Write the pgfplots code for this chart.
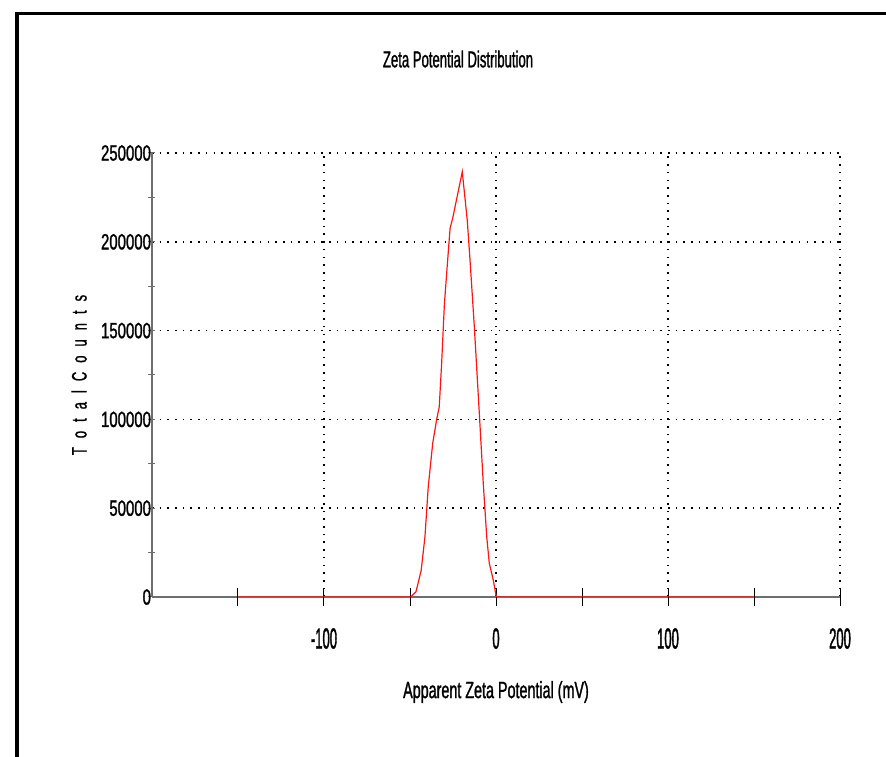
\documentclass[border=0pt]{standalone}
\usepackage{fontspec}
\setmainfont{Liberation Sans}
\newfontfamily\titlefont[FakeStretch=0.57,FakeBold=1.2]{Liberation Sans}
\newfontfamily\xtickfont[FakeStretch=0.45,FakeBold=1.2]{Liberation Sans}
\newfontfamily\ytickfont[FakeStretch=0.68,FakeBold=1.2]{Liberation Sans}
\newfontfamily\labfont[FakeStretch=0.61,FakeBold=1.2]{Liberation Sans}
\newfontfamily\ylabfont[FakeStretch=0.62,FakeBold=1.0]{Liberation Sans}
\usepackage{pgfplots}
\pgfplotsset{compat=1.18}
\definecolor{axgray}{RGB}{110,110,110}
\definecolor{zred}{RGB}{255,20,20}
\begin{document}
\begin{tikzpicture}
\useasboundingbox (-152pt,-160pt) rectangle (734pt,597pt);
\draw[line width=3.3pt, black] (-135pt,-170pt) -- (-135pt,583.3pt) -- (745pt,583.3pt);
\begin{axis}[
  at={(0pt,0pt)}, anchor=south west,
  scale only axis, width=688pt, height=444pt,
  xmin=-200, xmax=200, ymin=0, ymax=250000,
  axis x line*=bottom, axis y line*=left,
  x axis line style={-, draw=axgray, line width=1.8pt},
  y axis line style={-, draw=axgray, line width=1.8pt},
  xtick={-100,0,100,200},
  xticklabels={-100,0,100,200},
  extra x ticks={-150,-100,-50,0,50,100,150,200},
  extra x tick labels={},
  extra x tick style={major tick length=17pt, grid=none, tick style={black, line width=1pt}},
  ytick={0,50000,100000,150000,200000,250000},
  yticklabels={0,50000,100000,150000,200000,250000},
  minor ytick={25000,75000,125000,175000,225000},
  tick align=center,
  major tick length=7pt, minor tick length=7pt,
  every tick/.style={black, line width=1pt},
  y tick style={axgray},
  ymajorgrids=true, xmajorgrids=true,
  major grid style={black, line width=1.6pt, dash pattern=on 1.6pt off 6.1pt},
  scaled y ticks=false,
  yticklabel style={font=\ytickfont\fontsize{22}{22}\selectfont, anchor=east, xshift=6pt},
  xticklabel style={font=\xtickfont\fontsize{29}{29}\selectfont, anchor=base, yshift=-48pt},
  title={Zeta Potential Distribution},
  title style={font=\titlefont\fontsize{23}{23}\selectfont, at={(axis description cs:0.4448,1.198)}, anchor=center},
  xlabel={Apparent Zeta Potential (mV)},
  xlabel style={font=\labfont\fontsize{23.5}{23.5}\selectfont, at={(axis description cs:0.5,-0.214)}, anchor=center},
  ylabel={T\hspace{9pt}o\hspace{9pt}t\hspace{9pt}a\hspace{9pt}l\hspace{9pt}C\hspace{9pt}o\hspace{9pt}u\hspace{9pt}n\hspace{9pt}t\hspace{9pt}s},
  ylabel style={font=\ylabfont\fontsize{21}{21}\selectfont, at={(axis description cs:-0.106,0.5)}, anchor=center},
]
\addplot[zred, line width=1.2pt] coordinates {
(-150,0) (-49.5,0) (-46.5,3000) (-43.5,15000) (-41.3,34000) (-39.4,62000)
(-36.8,86500) (-34.5,100000) (-33,107000) (-31.6,131600) (-30,165000)
(-28.7,182000) (-26.7,207600) (-25.2,213200) (-19.6,239400) (-16.7,212000)
(-15.1,189700) (-12.6,152200) (-9.7,103400) (-7.4,64000) (-5.4,34000)
(-3.9,19000) (-1.6,9600) (-0.2,2000) (0.3,0) (150,0)
};
\end{axis}
\end{tikzpicture}
\end{document}
